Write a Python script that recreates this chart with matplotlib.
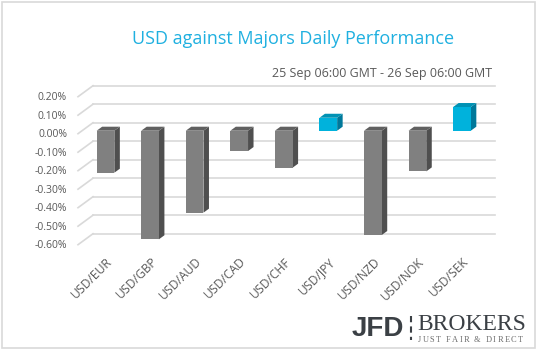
import matplotlib.pyplot as plt
from matplotlib.patches import Polygon, Rectangle

# Data (daily % change)
pairs = ['USD/EUR', 'USD/GBP', 'USD/AUD', 'USD/CAD', 'USD/CHF',
         'USD/JPY', 'USD/NZD', 'USD/NOK', 'USD/SEK']
values = [-0.227, -0.587, -0.443, -0.11, -0.20, 0.07, -0.564, -0.22, 0.128]
yticks = [0.2, 0.1, 0.0, -0.1, -0.2, -0.3, -0.4, -0.5, -0.6]

W, H = 537, 351
fig = plt.figure(figsize=(W / 100, H / 100), dpi=100)
plt.rcParams['font.family'] = ['Open Sans', 'DejaVu Sans']

# front plane axes: pixel x = 105.5 + 44.56*i, pixel y = 130.7 - 185*v
PX, PY = 44.56, 185.0
x0, x1 = 105.5 - PX, 105.5 + 9 * PX
y_top, y_bot = 130.7 - 0.3 * PY, 130.7 + 0.7 * PY
ax = fig.add_axes([x0 / W, (H - y_bot) / H, (x1 - x0) / W, (y_bot - y_top) / H])
ax.set_xlim(-1, 9)
ax.set_ylim(-0.7, 0.3)
ax.axis('off')

# 3d offsets (pixels -> data units)
ddx, ddy = 5.5 / PX, 4 / PY      # bar depth
bx, by = 10.9 / PX, 8 / PY       # back wall
fx, fy = -4.1 / PX, -3 / PY      # front edge
grid_c = '#d9d9d9'
xl, xr = -0.525, 8.497

for v in yticks:
    ax.plot([xl + bx, xr + bx], [v + by, v + by], color=grid_c, lw=1.2, zorder=1)
    ax.plot([xl + fx, xl + bx], [v + fy, v + by], color=grid_c, lw=1.2, zorder=1)
    ax.text(xl + fx - 11 / PX, v + fy - 1.2 / PY, f'{v:.2f}%', ha='right', va='center',
            fontsize=7.5, color='#595959')

w = 17.7 / PX
for i, v in enumerate(values):
    if v >= 0:
        front, top, side = '#00b2dc', '#0092b4', '#00789a'
    else:
        front, top, side = '#808080', '#606060', '#4f4f4f'
    l, r = i - w / 2, i + w / 2
    ax.add_patch(Polygon([(r, 0), (r, v), (r + ddx, v + ddy), (r + ddx, ddy)],
                         closed=True, facecolor=side, edgecolor='none', zorder=3))
    yt = max(v, 0)
    ax.add_patch(Polygon([(l, yt), (r, yt), (r + ddx, yt + ddy), (l + ddx, yt + ddy)],
                         closed=True, facecolor=top, edgecolor='none', zorder=3))
    ax.bar(i, v, width=w, color=front, zorder=4)
    ax.text(i + 0.5 / PX, (130.7 - 255) / PY, pairs[i], rotation=45, rotation_mode='anchor',
            ha='right', va='top', fontsize=8.7, color='#595959')

# titles
fig.text(293 / W, 1 - 39 / H, 'USD against Majors Daily Performance', ha='center',
         va='center', fontsize=13, color='#1fb0e0')
fig.text(492 / W, 1 - 74 / H, '25 Sep 06:00 GMT - 26 Sep 06:00 GMT', ha='right',
         va='center', fontsize=9, color='#595959')

# logo
logo_c = '#3b4045'
fig.text(352 / W, 1 - 336 / H, 'JFD', ha='left', va='baseline', fontsize=20,
         fontweight='bold', color=logo_c, family='Liberation Sans')
fig.add_artist(plt.Line2D([411 / W, 411 / W], [1 - 316 / H, 1 - 340 / H],
                          color=logo_c, lw=1.5, ls=(0, (3, 2))))
fig.text(417 / W, 1 - 330 / H, 'BROKERS', ha='left', va='baseline', fontsize=17,
         color=logo_c, family='Liberation Serif')

# tagline, spaced out letter by letter
tagline = 'JUST FAIR & DIRECT'
renderer = fig.canvas.get_renderer()
pieces = [fig.text(0, 0, ch, fontsize=6, family='Liberation Serif', color='#6d6d6d',
                   va='center', ha='left') for ch in tagline]
widths = [p.get_window_extent(renderer).width for p in pieces]
gap = (105 - sum(widths)) / (len(tagline) - 1)
xpos = 418.0
for p, wd in zip(pieces, widths):
    p.set_position((xpos / W, 1 - 340 / H))
    xpos += wd + gap

# outer frame
fig.add_artist(Rectangle((2 / W, 1 - 348 / H), 533 / W, 346 / H, transform=fig.transFigure,
                         fill=False, edgecolor='#d9d9d9', lw=1.2))

fig.savefig('out.png', dpi=100)
